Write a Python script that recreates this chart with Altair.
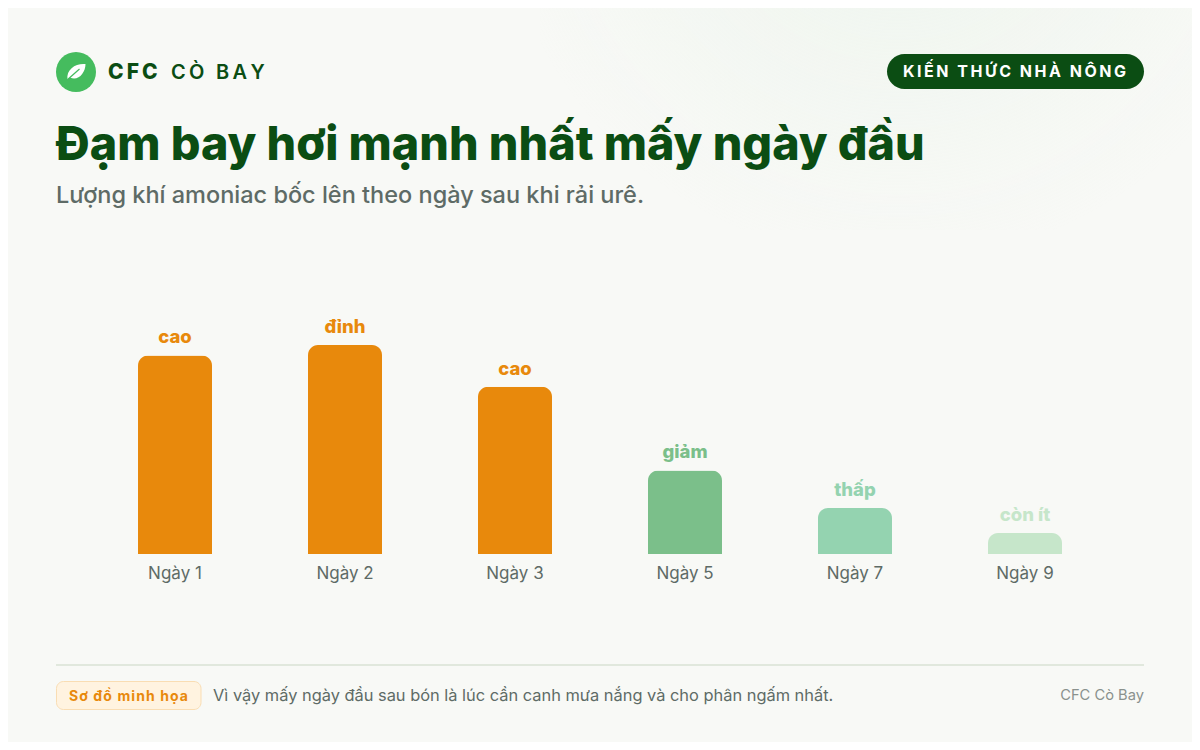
"""Bar chart of ammonia loss by day after spreading urea."""

import altair as alt
import pandas as pd

days = ["Ngày 1", "Ngày 2", "Ngày 3", "Ngày 5", "Ngày 7", "Ngày 9"]
levels = [95, 100, 80, 40, 22, 10]
notes = ["cao", "đỉnh", "cao", "giảm", "thấp", "còn ít"]
bar_colors = ["#E8890C", "#E8890C", "#E8890C", "#7BBF8A", "#94D3B0", "#C6E6CA"]

FONT = "Inter"
DARK_GREEN = "#0B4D13"
GREY = "#5E6B66"
PAPER = "#F8F9F6"
PLOT_LEFT = 90  # page pixels of the plot origin
PLOT_TOP = 345
MARGIN = 8

df = pd.DataFrame({"day": days, "level": levels, "note": notes})
one_row = pd.DataFrame({"a": [0]})


def spaced(text, gap):
    """Vega text has no letter spacing, so put a narrow space between letters."""
    return gap.join(text)


def label(text, x, y, size, color, weight=400, align="left"):
    """Text placed at page pixel coordinates."""
    return alt.Chart(one_row).mark_text(
        text=text, font=FONT, fontSize=size, fontWeight=weight, color=color,
        align=align, baseline="alphabetic"
    ).encode(x=alt.value(x - PLOT_LEFT), y=alt.value(y - PLOT_TOP))


def box(x, x2, y, y2, radius, fill, stroke=None):
    """Rounded box placed at page pixel coordinates."""
    opts = {"stroke": stroke, "strokeWidth": 1} if stroke else {}
    return alt.Chart(one_row).mark_rect(cornerRadius=radius, fill=fill, **opts).encode(
        x=alt.value(x - PLOT_LEFT), x2=alt.value(x2 - PLOT_LEFT),
        y=alt.value(y - PLOT_TOP), y2=alt.value(y2 - PLOT_TOP)
    )


glow = box(540, 1192, 8, 230, 0, {
    "gradient": "radial", "x1": 0.55, "y1": 0.1, "r1": 0, "x2": 0.55, "y2": 0.1, "r2": 0.62,
    "stops": [{"offset": 0, "color": "rgba(226,240,228,0.5)"},
              {"offset": 1, "color": "rgba(226,240,228,0)"}]
})

logo_x = alt.value(76 - PLOT_LEFT)
logo_y = alt.value(72 - PLOT_TOP)
logo = alt.Chart(one_row).mark_circle(size=1600, color="#45BC5E", opacity=1).encode(x=logo_x, y=logo_y)
leaf = alt.Chart(one_row).mark_point(
    shape="M-0.85,0.75 C-1,-0.3 0,-0.9 0.95,-0.8 C0.95,0.1 0.2,0.95 -0.6,0.55 Z",
    size=400, filled=True, color="white", opacity=1
).encode(x=logo_x, y=logo_y)
vein = alt.Chart(one_row).mark_point(
    shape="M-0.95,0.85 L0.35,-0.3",
    size=400, filled=False, color="#45BC5E", strokeWidth=1.2, opacity=1
).encode(x=logo_x, y=logo_y)

brand_a = label(spaced("CFC", "\u2009"), 108, 79, 21, DARK_GREEN, 800)
brand_b = label(spaced("CÒ BAY", "\u2009"), 171, 79, 20, DARK_GREEN, 600)
pill = box(887, 1144, 54, 89, 17.5, DARK_GREEN)
pill_text = label(spaced("KIẾN THỨC NHÀ NÔNG", "\u2009"), 903, 77, 16, "white", 700)

title = label("Đạm bay hơi mạnh nhất mấy ngày đầu", 56, 160, 46.7, DARK_GREEN, 800)
subtitle = label("Lượng khí amoniac bốc lên theo ngày sau khi rải urê.", 56, 203, 23.5, GREY, 500)

divider = box(56, 1144, 664, 666, 0, "#E1E8DD")
tag = box(56.5, 201, 681.5, 709.5, 7, "#FFF3E0", "#F9DDB3")
tag_text = label(spaced("Sơ đồ minh họa", "\u200a"), 69, 701, 14, "#E8890C", 700)
footnote = label("Vì vậy mấy ngày đầu sau bón là lúc cần canh mưa nắng và cho phân ngấm nhất.",
                 213, 701, 16.4, GREY, 400)
source = label("CFC Cò Bay", 1144, 700, 14.7, "#8A918D", 400, "right")

x_enc = alt.X("day:N", sort=days, title=None,
              scale=alt.Scale(paddingInner=0.5647, paddingOuter=0.2824),
              axis=alt.Axis(domain=False, ticks=False, labelAngle=0, labelFont=FONT,
                            labelFontSize=17, labelColor=GREY, labelPadding=11))
y_enc = alt.Y("level:Q", title=None, scale=alt.Scale(domain=[0, 100], nice=False), axis=None)
color_enc = alt.Color("day:N", sort=days, legend=None,
                      scale=alt.Scale(domain=days, range=bar_colors))

bars = alt.Chart(df).mark_bar(cornerRadiusTopLeft=10, cornerRadiusTopRight=10).encode(
    x=x_enc, y=y_enc, color=color_enc
)
bar_notes = alt.Chart(df).mark_text(font=FONT, fontSize=18.5, fontWeight=800, dy=-18).encode(
    x=x_enc, y=y_enc, text="note:N", color=color_enc
)

chart = alt.layer(
    glow, logo, leaf, vein, brand_a, brand_b, pill, pill_text, title, subtitle,
    divider, tag, tag_text, footnote, source, bars, bar_notes
).properties(
    width=1020,
    height=209,
    padding={"left": PLOT_LEFT - MARGIN, "top": PLOT_TOP - MARGIN, "right": 82, "bottom": 188},
    autosize=alt.AutoSizeParams(type="none"),
    background=PAPER
).configure_view(stroke=None)

chart.save("out.html", embed_options={"renderer": "svg", "actions": False})
